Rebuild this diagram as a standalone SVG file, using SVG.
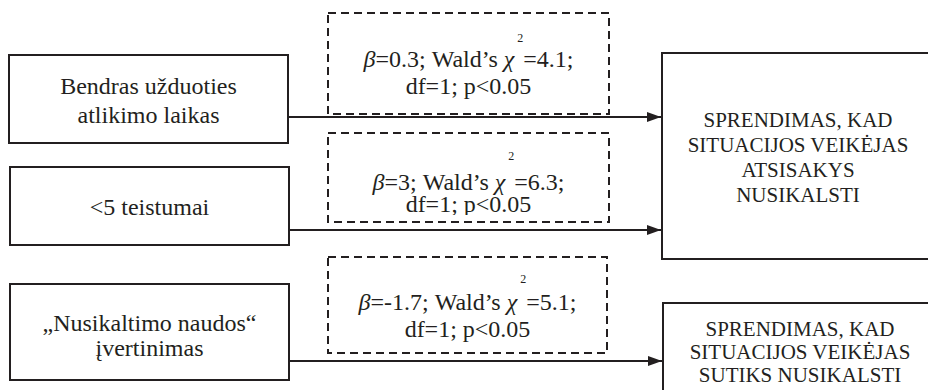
<svg xmlns="http://www.w3.org/2000/svg" width="928" height="390" viewBox="0 0 928 390">
<style>
.box{fill:#fff;stroke:#231f20;stroke-width:2}
.dbox{fill:none;stroke:#231f20;stroke-width:2;stroke-dasharray:8 5}
.conn{stroke:#231f20;stroke-width:2;fill:none;marker-end:url(#arr)}
.t{font-family:'Liberation Serif','Times New Roman',serif;font-size:24px;fill:#231f20;text-anchor:middle}
.r{font-family:'Liberation Serif','Times New Roman',serif;font-size:21px;fill:#231f20;text-anchor:middle}
.i{font-style:italic}
.sup{font-size:12px}
</style>
<defs>
<marker id="arr" markerUnits="userSpaceOnUse" markerWidth="14" markerHeight="10" refX="14" refY="5" orient="auto">
<path d="M0,0 L14,5 L0,10 z" fill="#231f20"/>
</marker>
<clipPath id="clipD2"><rect x="328" y="133" width="281" height="82"/></clipPath>
</defs>
<rect width="928" height="390" fill="#fff"/>
<g id="connectors">
<line class="conn" x1="289" y1="117" x2="661" y2="117"/>
<line class="conn" x1="290" y1="230" x2="661" y2="230"/>
<line class="conn" x1="290" y1="361" x2="662" y2="361"/>
</g>
<g id="n1">
<rect class="box" x="9" y="55" width="279" height="88"/>
<text class="t" x="148.5" y="94">Bendras užduoties</text>
<text class="t" x="148.5" y="123">atlikimo laikas</text>
</g>
<g id="n2">
<rect class="box" x="10" y="167" width="279" height="78"/>
<text class="t" x="149.5" y="215">&lt;5 teistumai</text>
</g>
<g id="n3">
<rect class="box" x="10" y="284" width="279" height="96"/>
<text class="t" x="149.5" y="331">„Nusikaltimo naudos“</text>
<text class="t" x="149.5" y="356">įvertinimas</text>
</g>
<g id="d1">
<rect class="dbox" x="328" y="13" width="281" height="101"/>
<text class="t" x="468.5" y="67"><tspan class="i">β</tspan>=0.3; Wald’s <tspan class="i">χ</tspan><tspan class="sup" dy="-25"> 2</tspan><tspan dy="25">=4.1;</tspan></text>
<text class="t" x="468.5" y="94">df=1; p&lt;0.05</text>
</g>
<g id="d2">
<rect class="dbox" x="328" y="133" width="281" height="89"/>
<text class="t" x="468.5" y="190"><tspan class="i">β</tspan>=3; Wald’s <tspan class="i">χ</tspan><tspan class="sup" dy="-30"> 2</tspan><tspan dy="30">=6.3;</tspan></text>
<text class="t" x="468.5" y="212" clip-path="url(#clipD2)">df=1; p&lt;0.05</text>
</g>
<g id="d3">
<rect class="dbox" x="328" y="257" width="279" height="96"/>
<text class="t" x="467.5" y="310"><tspan class="i">β</tspan>=-1.7; Wald’s <tspan class="i">χ</tspan><tspan class="sup" dy="-27"> 2</tspan><tspan dy="27">=5.1;</tspan></text>
<text class="t" x="467.5" y="337">df=1; p&lt;0.05</text>
</g>
<g id="n4">
<rect class="box" x="662" y="53" width="272" height="206"/>
<text class="r" x="798" y="127">SPRENDIMAS, KAD</text>
<text class="r" x="798" y="152">SITUACIJOS VEIKĖJAS</text>
<text class="r" x="798" y="177">ATSISAKYS</text>
<text class="r" x="798" y="202">NUSIKALSTI</text>
</g>
<g id="n5">
<rect class="box" x="663" y="303" width="274" height="100"/>
<text class="r" x="800" y="336">SPRENDIMAS, KAD</text>
<text class="r" x="800" y="359">SITUACIJOS VEIKĖJAS</text>
<text class="r" x="800" y="382">SUTIKS NUSIKALSTI</text>
</g>
</svg>
